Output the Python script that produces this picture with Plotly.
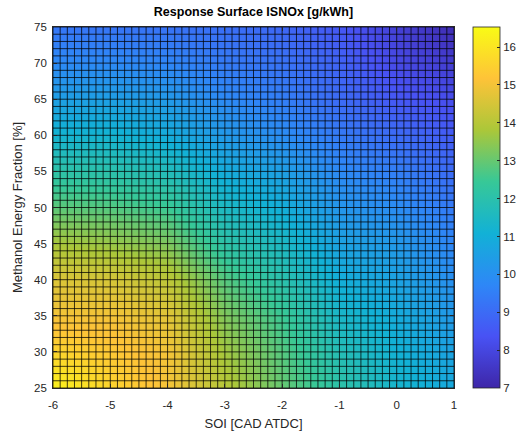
import numpy as np
import plotly.graph_objects as go

# ---- data (coarse nodes of the response surface) ----
soi = [-6, -5, -4, -3, -2, -1, 0, 1]                 # SOI [CAD ATDC]
methanol = [25, 30, 35, 40, 45, 50, 55, 60, 65, 70, 75]  # methanol energy fraction [%]

isnox_m25 = [16.3, 15.6, 15.0, 14.0, 13.0, 12.1, 11.3, 10.8]
isnox_m30 = [15.6, 15.3, 15.0, 13.7, 12.8, 11.8, 11.1, 10.6]
isnox_m35 = [15.0, 15.0, 14.7, 13.3, 12.5, 11.4, 10.9, 10.3]
isnox_m40 = [14.6, 14.5, 14.1, 12.8, 12.0, 11.0, 10.6, 10.0]
isnox_m45 = [13.8, 13.6, 13.3, 12.1, 11.5, 10.6, 10.3, 9.7]
isnox_m50 = [12.9, 12.8, 12.5, 11.5, 11.0, 10.2, 9.9, 9.4]
isnox_m55 = [12.1, 12.0, 11.7, 10.9, 10.5, 9.8, 9.5, 9.0]
isnox_m60 = [11.2, 11.2, 10.9, 10.3, 9.9, 9.4, 9.0, 8.6]
isnox_m65 = [10.5, 10.5, 10.3, 9.8, 9.5, 9.0, 8.5, 8.2]
isnox_m70 = [9.8, 9.8, 9.7, 9.4, 9.2, 8.8, 8.1, 7.7]
isnox_m75 = [9.3, 9.25, 9.2, 9.1, 8.9, 8.5, 7.8, 7.2]

x_ticks = [-6, -5, -4, -3, -2, -1, 0, 1]
x_ticklabels = ["-6", "-5", "-4", "-3", "-2", "-1", "0", "1"]
y_ticks = [25, 30, 35, 40, 45, 50, 55, 60, 65, 70, 75]
cbar_ticks = [7, 8, 9, 10, 11, 12, 13, 14, 15, 16]

z = [isnox_m25, isnox_m30, isnox_m35, isnox_m40, isnox_m45, isnox_m50,
     isnox_m55, isnox_m60, isnox_m65, isnox_m70, isnox_m75]

# mesh used by the surface (edges drawn in black like MATLAB surf)
n_soi_nodes = 57
n_meth_nodes = 51

parula = [
    [0 / 7, "rgb(62,38,168)"],
    [1 / 7, "rgb(72,82,244)"],
    [2 / 7, "rgb(46,135,247)"],
    [3 / 7, "rgb(18,177,214)"],
    [4 / 7, "rgb(55,200,151)"],
    [5 / 7, "rgb(171,199,57)"],
    [6 / 7, "rgb(254,195,56)"],
    [7 / 7, "rgb(249,251,21)"],
]

font_family = "Liberation Sans, Arial, Helvetica, sans-serif"
txt = "#262626"

fig = go.Figure()
fig.add_trace(go.Heatmap(
    x=soi, y=methanol, z=z,
    zsmooth="best",
    colorscale=parula, zmin=7, zmax=16.53,
    colorbar=dict(
        x=(473 - 53) / 401, xanchor="left", xpad=0,
        y=0, yanchor="bottom", ypad=0,
        lenmode="fraction", len=1, thickness=27,
        outlinecolor=txt, outlinewidth=0.8,
        tickvals=cbar_ticks, ticks="inside", ticklen=3, tickcolor=txt,
        tickfont=dict(family=font_family, size=11.5, color=txt),
    ),
    hoverinfo="skip",
))

# grid (surface edges)
gx = np.linspace(min(soi), max(soi), n_soi_nodes)
gy = np.linspace(min(methanol), max(methanol), n_meth_nodes)
lx, ly = [], []
for v in gx:
    lx += [v, v, None]
    ly += [gy[0], gy[-1], None]
for v in gy:
    lx += [gx[0], gx[-1], None]
    ly += [v, v, None]
fig.add_trace(go.Scatter(x=lx, y=ly, mode="lines",
                         line=dict(color="rgba(0,0,0,0.75)", width=1),
                         hoverinfo="skip", showlegend=False))

axis_common = dict(
    showline=True, linecolor=txt, linewidth=0.8, mirror="ticks",
    ticks="inside", ticklen=4, tickcolor=txt,
    showgrid=False, zeroline=False,
    tickfont=dict(family=font_family, size=11.5, color=txt),
)

fig.update_layout(
    width=521, height=435,
    margin=dict(l=53, r=67, t=27, b=47, autoexpand=False),
    paper_bgcolor="white", plot_bgcolor="white",
    title=dict(text="<b>Response Surface ISNOx [g/kWh]</b>",
               x=0.5, xref="paper", y=1 - 12 / 435, yref="container",
               yanchor="middle", xanchor="center",
               font=dict(family=font_family, size=12.5, color="black")),
    xaxis=dict(range=[-6, 1], tickvals=x_ticks, ticktext=x_ticklabels,
               ticklabelstandoff=6,
               title=dict(text="SOI [CAD ATDC]", standoff=9,
                          font=dict(family=font_family, size=13, color=txt)),
               **axis_common),
    yaxis=dict(range=[25, 75], tickvals=y_ticks, ticklabelstandoff=3,
               title=dict(text="Methanol Energy Fraction [%]", standoff=8,
                          font=dict(family=font_family, size=13, color=txt)),
               **axis_common),
    showlegend=False,
)

fig.write_html("out.html")
